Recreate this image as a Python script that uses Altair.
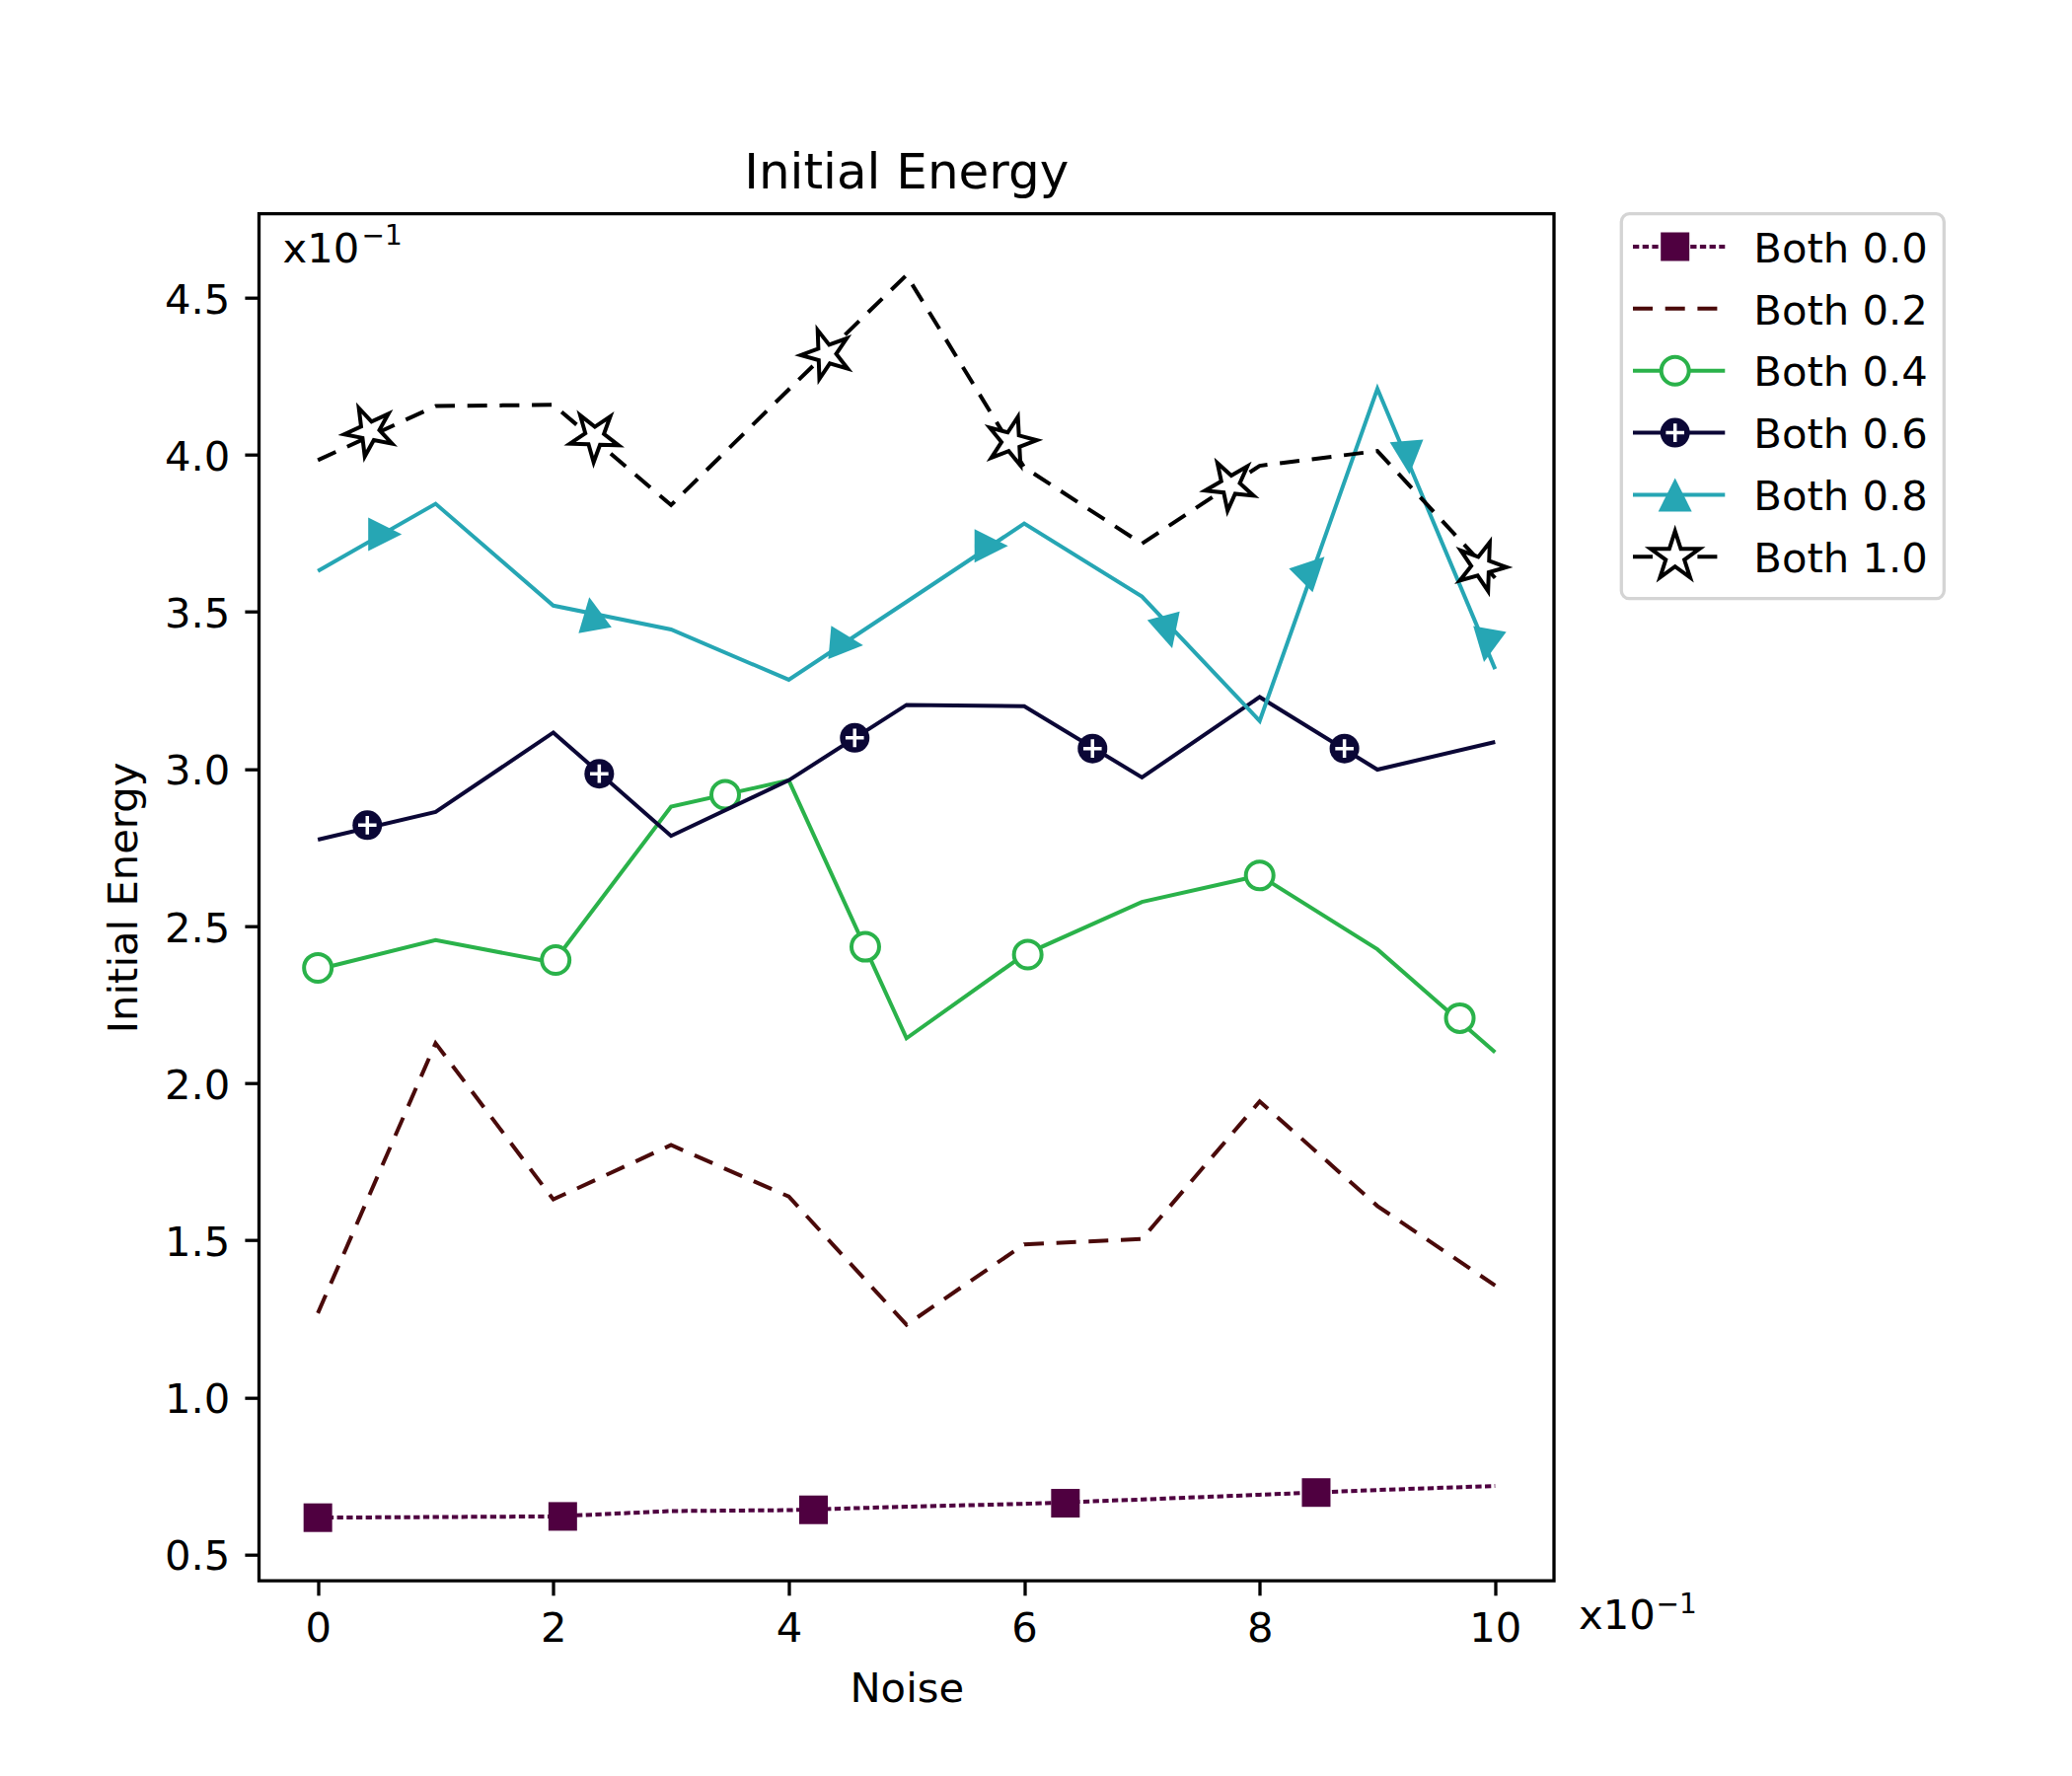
import altair as alt
import pandas as pd

FONT = "DejaVu Sans"

names = ["Both 0.0", "Both 0.2", "Both 0.4", "Both 0.6", "Both 0.8", "Both 1.0"]
colors = ["#4f0040", "#4a0a0a", "#2ab24a", "#0b0736", "#26a6b4", "#000000"]
dashes = [[6.3, 3.4], [20, 12.7], [1, 0], [1, 0], [1, 0], [20, 12.7]]

noise = [0, 1, 2, 3, 4, 5, 6, 7, 8, 9, 10]
e00 = [0.617, 0.619, 0.621, 0.638, 0.641, 0.652, 0.661, 0.675, 0.690, 0.705, 0.718]
e02 = [1.268, 2.127, 1.630, 1.803, 1.639, 1.231, 1.487, 1.504, 1.942, 1.609, 1.356]
e04 = [2.362, 2.455, 2.384, 2.880, 2.964, 2.143, 2.409, 2.577, 2.661, 2.426, 2.098]
e06 = [2.775, 2.863, 3.116, 2.787, 2.964, 3.204, 3.200, 2.973, 3.229, 2.998, 3.086]
e08 = [3.630, 3.844, 3.520, 3.444, 3.284, 3.532, 3.781, 3.549, 3.153, 4.210, 3.318]
e10 = [3.983, 4.155, 4.159, 3.840, 4.208, 4.572, 3.960, 3.717, 3.965, 4.012, 3.608]

# marker positions
m00_x = [0.0, 2.08, 4.21, 6.35, 8.48]
m00_y = [0.617, 0.621, 0.642, 0.663, 0.697]
m04_x = [0.0, 2.02, 3.46, 4.65, 6.03, 8.0, 9.70]
m04_y = [2.367, 2.392, 2.918, 2.434, 2.409, 2.661, 2.207]
m06_x = [0.42, 2.39, 4.56, 6.58, 8.72]
m06_y = [2.821, 2.985, 3.099, 3.065, 3.065]
m08_x = [0.57, 2.33, 4.49, 5.72, 7.22, 8.45, 9.26, 9.93]
m08_y = [3.747, 3.494, 3.398, 3.710, 3.436, 3.638, 3.991, 3.393]
m08_a = [90, 350, 95, 90, 165, 45, 175, 190]
m10_x = [0.44, 2.35, 4.32, 5.89, 7.75, 9.88]
m10_y = [4.075, 4.058, 4.320, 4.042, 3.903, 3.645]
m10_a = [335, 38, 340, 15, 330, 20]

x_ticks = [0, 2, 4, 6, 8, 10]
y_ticks = [0.5, 1.0, 1.5, 2.0, 2.5, 3.0, 3.5, 4.0, 4.5]

STAR = "M0,-1L0.2245,-0.309L0.9511,-0.309L0.3633,0.118L0.5878,0.809L0,0.382L-0.5878,0.809L-0.3633,0.118L-0.9511,-0.309L-0.2245,-0.309Z"
TRI = "M0,-1L1,1L-1,1Z"
PLUS = "M-0.62,0L0.62,0M0,-0.62L0,0.62"

W, H = 1312.5, 1385.5
FS = 41.7
LX = 1380.8  # legend box left, relative to plot origin

xs = alt.Scale(domain=[-0.5, 10.5], nice=False, zero=False)
ys = alt.Scale(domain=[0.416, 4.767], nice=False, zero=False)

xaxis = alt.Axis(values=x_ticks, format="d", labelFontSize=FS, labelFont=FONT, labelColor="black",
                 tickSize=14.6, tickWidth=3.3, tickColor="black", domain=False, grid=False,
                 labelPadding=13.5, labelBaseline="top",
                 title="Noise", titleFontSize=FS, titleFont=FONT, titleFontWeight="normal",
                 titleColor="black", titleY=122, titleBaseline="alphabetic")
yaxis = alt.Axis(values=y_ticks, format=".1f", labelFontSize=FS, labelFont=FONT, labelColor="black",
                 tickSize=14.6, tickWidth=3.3, tickColor="black", domain=False, grid=False,
                 labelPadding=15, labelOffset=2.5,
                 title="Initial Energy", titleFontSize=FS, titleFont=FONT, titleFontWeight="normal",
                 titleColor="black", titleX=-124, titleY=H / 2, titleAngle=270,
                 titleAlign="center", titleBaseline="alphabetic")


def xy():
    return dict(x=alt.X("x:Q", scale=xs, axis=xaxis), y=alt.Y("y:Q", scale=ys, axis=yaxis))


def line_layer(vals, color, dash):
    df = pd.DataFrame({"x": noise, "y": vals})
    kw = dict(color=color, strokeWidth=4)
    if dash != [1, 0]:
        kw["strokeDash"] = dash
    return alt.Chart(df).mark_line(**kw).encode(**xy())


def pts(xv, yv, ang=None):
    d = {"x": xv, "y": yv}
    if ang is not None:
        d["a"] = ang
    return pd.DataFrame(d)


layers = []
# Both 0.0
layers.append(line_layer(e00, colors[0], dashes[0]))
layers.append(alt.Chart(pts(m00_x, m00_y)).mark_point(shape="square", filled=True, size=841,
                                                      color=colors[0], opacity=1).encode(**xy()))
# Both 0.2
layers.append(line_layer(e02, colors[1], dashes[1]))
# Both 0.4
layers.append(line_layer(e04, colors[2], dashes[2]))
layers.append(alt.Chart(pts(m04_x, m04_y)).mark_point(shape="circle", filled=True, fill="white",
                                                      stroke=colors[2], strokeWidth=4, size=784,
                                                      opacity=1).encode(**xy()))
# Both 0.6
layers.append(line_layer(e06, colors[3], dashes[3]))
layers.append(alt.Chart(pts(m06_x, m06_y)).mark_point(shape="circle", filled=True, color=colors[3],
                                                      size=900, opacity=1).encode(**xy()))
layers.append(alt.Chart(pts(m06_x, m06_y)).mark_point(shape=PLUS, filled=False, stroke="white",
                                                      strokeWidth=3.5, size=900, opacity=1).encode(**xy()))
# Both 0.8
layers.append(line_layer(e08, colors[4], dashes[4]))
layers.append(alt.Chart(pts(m08_x, m08_y, m08_a)).mark_point(shape=TRI, filled=True, color=colors[4],
                                                             size=1156, opacity=1).encode(
    angle=alt.Angle("a:Q", scale=None), **xy()))
# Both 1.0
layers.append(line_layer(e10, colors[5], dashes[5]))
layers.append(alt.Chart(pts(m10_x, m10_y, m10_a)).mark_point(shape=STAR, filled=True, fill="white",
                                                             stroke="black", strokeWidth=4, size=2700,
                                                             opacity=1).encode(
    angle=alt.Angle("a:Q", scale=None), **xy()))


# offset texts
def txt(s, x, y, size):
    return alt.Chart(pd.DataFrame({"t": [s]})).mark_text(align="left", baseline="alphabetic",
                                                         font=FONT, fontSize=size, color="black").encode(
        text="t:N", x=alt.value(x), y=alt.value(y))


layers.append(txt("x10", 24, 49, FS))
layers.append(txt("\u22121", 104, 31.6, 28))
layers.append(txt("x10", 1337.5, 1434, FS))
layers.append(txt("\u22121", 1416, 1418.3, 28))

main = alt.layer(*layers)

# legend (drawn to the right of the plot)
leg_df = pd.DataFrame({"series": names})
yleg = alt.Y("series:N", scale=alt.Scale(type="point", domain=names, range=[33.3, 347.6], padding=0),
             axis=None)

leg_box = alt.Chart(pd.DataFrame({"series": [names[0]]})).mark_rect(
    fill="white", stroke="#d4d4d4", strokeWidth=3.3, cornerRadius=8).encode(
    x=alt.value(LX), x2=alt.value(LX + 327), y=alt.value(0), y2=alt.value(390))

leg_rules = alt.Chart(leg_df).mark_rule(strokeWidth=4).encode(
    y=yleg, x=alt.value(LX + 11.7), x2=alt.value(LX + 105),
    color=alt.Color("series:N", scale=alt.Scale(domain=names, range=colors), legend=None),
    strokeDash=alt.StrokeDash("series:N", scale=alt.Scale(domain=names, range=dashes), legend=None))


def leg_mark(name, **kw):
    return alt.Chart(leg_df).transform_filter(alt.datum.series == name).mark_point(opacity=1, **kw).encode(
        y=yleg, x=alt.value(LX + 54.4))


leg_layers = [
    leg_box,
    leg_rules,
    leg_mark("Both 0.0", shape="square", filled=True, size=841, color=colors[0]),
    leg_mark("Both 0.4", shape="circle", filled=True, fill="white", stroke=colors[2], strokeWidth=4, size=784),
    leg_mark("Both 0.6", shape="circle", filled=True, color=colors[3], size=900),
    leg_mark("Both 0.6", shape=PLUS, filled=False, stroke="white", strokeWidth=3.5, size=900),
    leg_mark("Both 0.8", shape=TRI, filled=True, color=colors[4], size=1156),
    leg_mark("Both 1.0", shape=STAR, filled=True, fill="white", stroke="black", strokeWidth=4, size=2700),
    alt.Chart(leg_df).mark_text(align="left", baseline="middle", font=FONT, fontSize=FS, dy=2.7,
                                color="black").encode(y=yleg, x=alt.value(LX + 134), text="series:N"),
]
legend = alt.layer(*leg_layers)

chart = alt.layer(main, legend).resolve_scale(y="independent").properties(
    width=W, height=H,
    title=alt.Title("Initial Energy", fontSize=50, font=FONT, fontWeight="normal", anchor="middle",
                    frame="group", offset=25, dy=51, baseline="alphabetic", color="black"),
    autosize=alt.AutoSizeParams(type="none"),
    padding={"left": 254.5, "top": 208.7, "right": 500, "bottom": 150},
).configure(font=FONT).configure_view(stroke="black", strokeWidth=3.3)

chart.save("out.html", embed_options={"renderer": "svg", "actions": False})
